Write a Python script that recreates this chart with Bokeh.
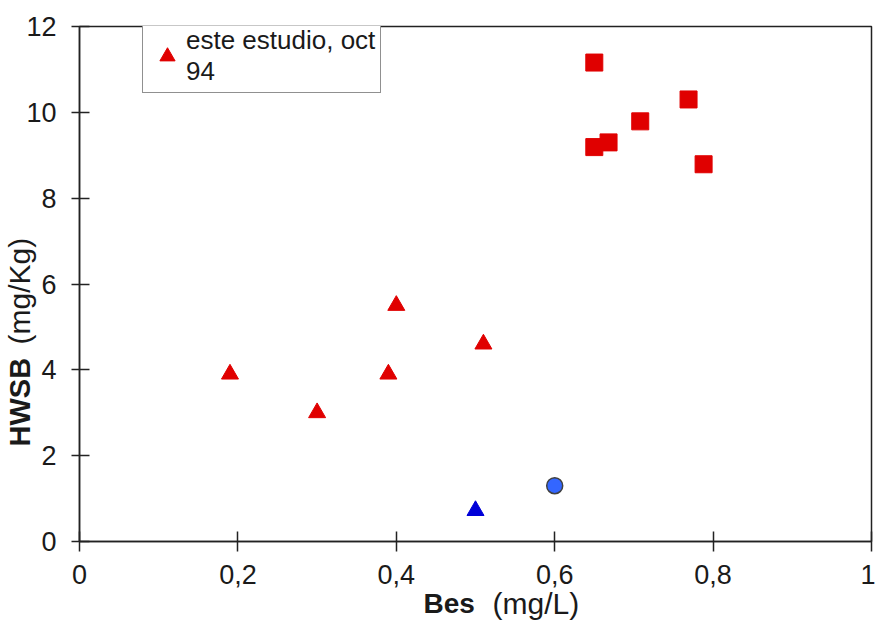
from bokeh.plotting import figure
from bokeh.models import FixedTicker, Legend, LegendItem, Title, Range1d
from bokeh.embed import file_html
from bokeh.resources import INLINE

# ---- data ----
este_x = [0.19, 0.30, 0.39, 0.40, 0.51]
este_y = [3.9, 3.0, 3.9, 5.5, 4.6]
sq_x = [0.65, 0.65, 0.668, 0.708, 0.769, 0.788]
sq_y = [11.16, 9.19, 9.30, 9.79, 10.30, 8.79]
btri_x = [0.50]
btri_y = [0.72]
circ_x = [0.60]
circ_y = [1.30]

xticks = [0, 0.2, 0.4, 0.6, 0.8, 1.0]
xtick_labels = ["0", "0,2", "0,4", "0,6", "0,8", "1"]
yticks = [0, 2, 4, 6, 8, 10, 12]
ytick_labels = ["0", "2", "4", "6", "8", "10", "12"]
legend_label = "este estudio, oct\n94"

FONT = "Liberation Sans"
TXT = "#1a1a1a"

p = figure(width=875, height=621, output_backend="svg", toolbar_location=None,
           x_range=Range1d(0, 1), y_range=Range1d(0, 12),
           min_border_left=79, min_border_right=4, min_border_top=26, min_border_bottom=79)
p.grid.visible = False
p.background_fill_color = "white"
p.border_fill_color = "white"
p.outline_line_color = "#222222"
p.outline_line_width = 1.5

for ax, ticks, labels in ((p.xaxis[0], xticks, xtick_labels), (p.yaxis[0], yticks, ytick_labels)):
    ax.ticker = FixedTicker(ticks=ticks)
    ax.major_label_overrides = {t: l for t, l in zip(ticks, labels)}
    ax.minor_tick_line_color = None
    ax.axis_line_color = "#222222"
    ax.axis_line_width = 1.5
    ax.major_tick_line_color = "#222222"
    ax.major_tick_line_width = 1.5
    ax.major_label_text_font = FONT
    ax.major_label_text_font_size = "27px"
    ax.major_label_text_color = TXT

p.xaxis.major_tick_in = 10
p.xaxis.major_tick_out = 10
p.xaxis.major_label_standoff = 13
p.yaxis.major_tick_in = 10
p.yaxis.major_tick_out = 8
p.yaxis.major_label_standoff = 15

r_este = p.scatter(este_x, este_y, marker="triangle", size=17, fill_color="#E00000", line_color="#E00000")
p.scatter(sq_x, sq_y, marker="square", size=17, fill_color="#E00000", line_color="#E00000")
p.scatter(btri_x, btri_y, marker="triangle", size=17, fill_color="#0000D8", line_color="#0000D8")
p.scatter(circ_x, circ_y, marker="circle", size=16, fill_color="#3366FF", line_color="#404040", line_width=1.5)

legend = Legend(items=[LegendItem(label=legend_label, renderers=[r_este])],
                location=(63, 448), padding=5, margin=0, glyph_width=38, glyph_height=38,
                label_standoff=0, label_text_font=FONT, label_text_font_size="26px",
                label_text_color=TXT, border_line_color="#222222", border_line_width=1.5,
                background_fill_alpha=1.0)
p.add_layout(legend, "center")

# axis titles: bold part + normal part, as side-panel titles
tcommon = dict(text_font=FONT, text_color=TXT, align="left")
p.add_layout(Title(text="Bes", text_font_style="bold", text_font_size="28px", vertical_align="top",
                   offset=344, standoff=2, **tcommon), "below")
p.add_layout(Title(text="(mg/L)", text_font_style="normal", text_font_size="30px", vertical_align="top",
                   offset=413, standoff=-70, **tcommon), "below")
p.add_layout(Title(text="HWSB", text_font_style="bold", text_font_size="29px", vertical_align="bottom",
                   offset=95, standoff=-24, **tcommon), "left")
p.add_layout(Title(text="(mg/Kg)", text_font_style="normal", text_font_size="30px", vertical_align="bottom",
                   offset=197, standoff=-44, **tcommon), "left")

open("out.html", "w").write(file_html(p, INLINE))
